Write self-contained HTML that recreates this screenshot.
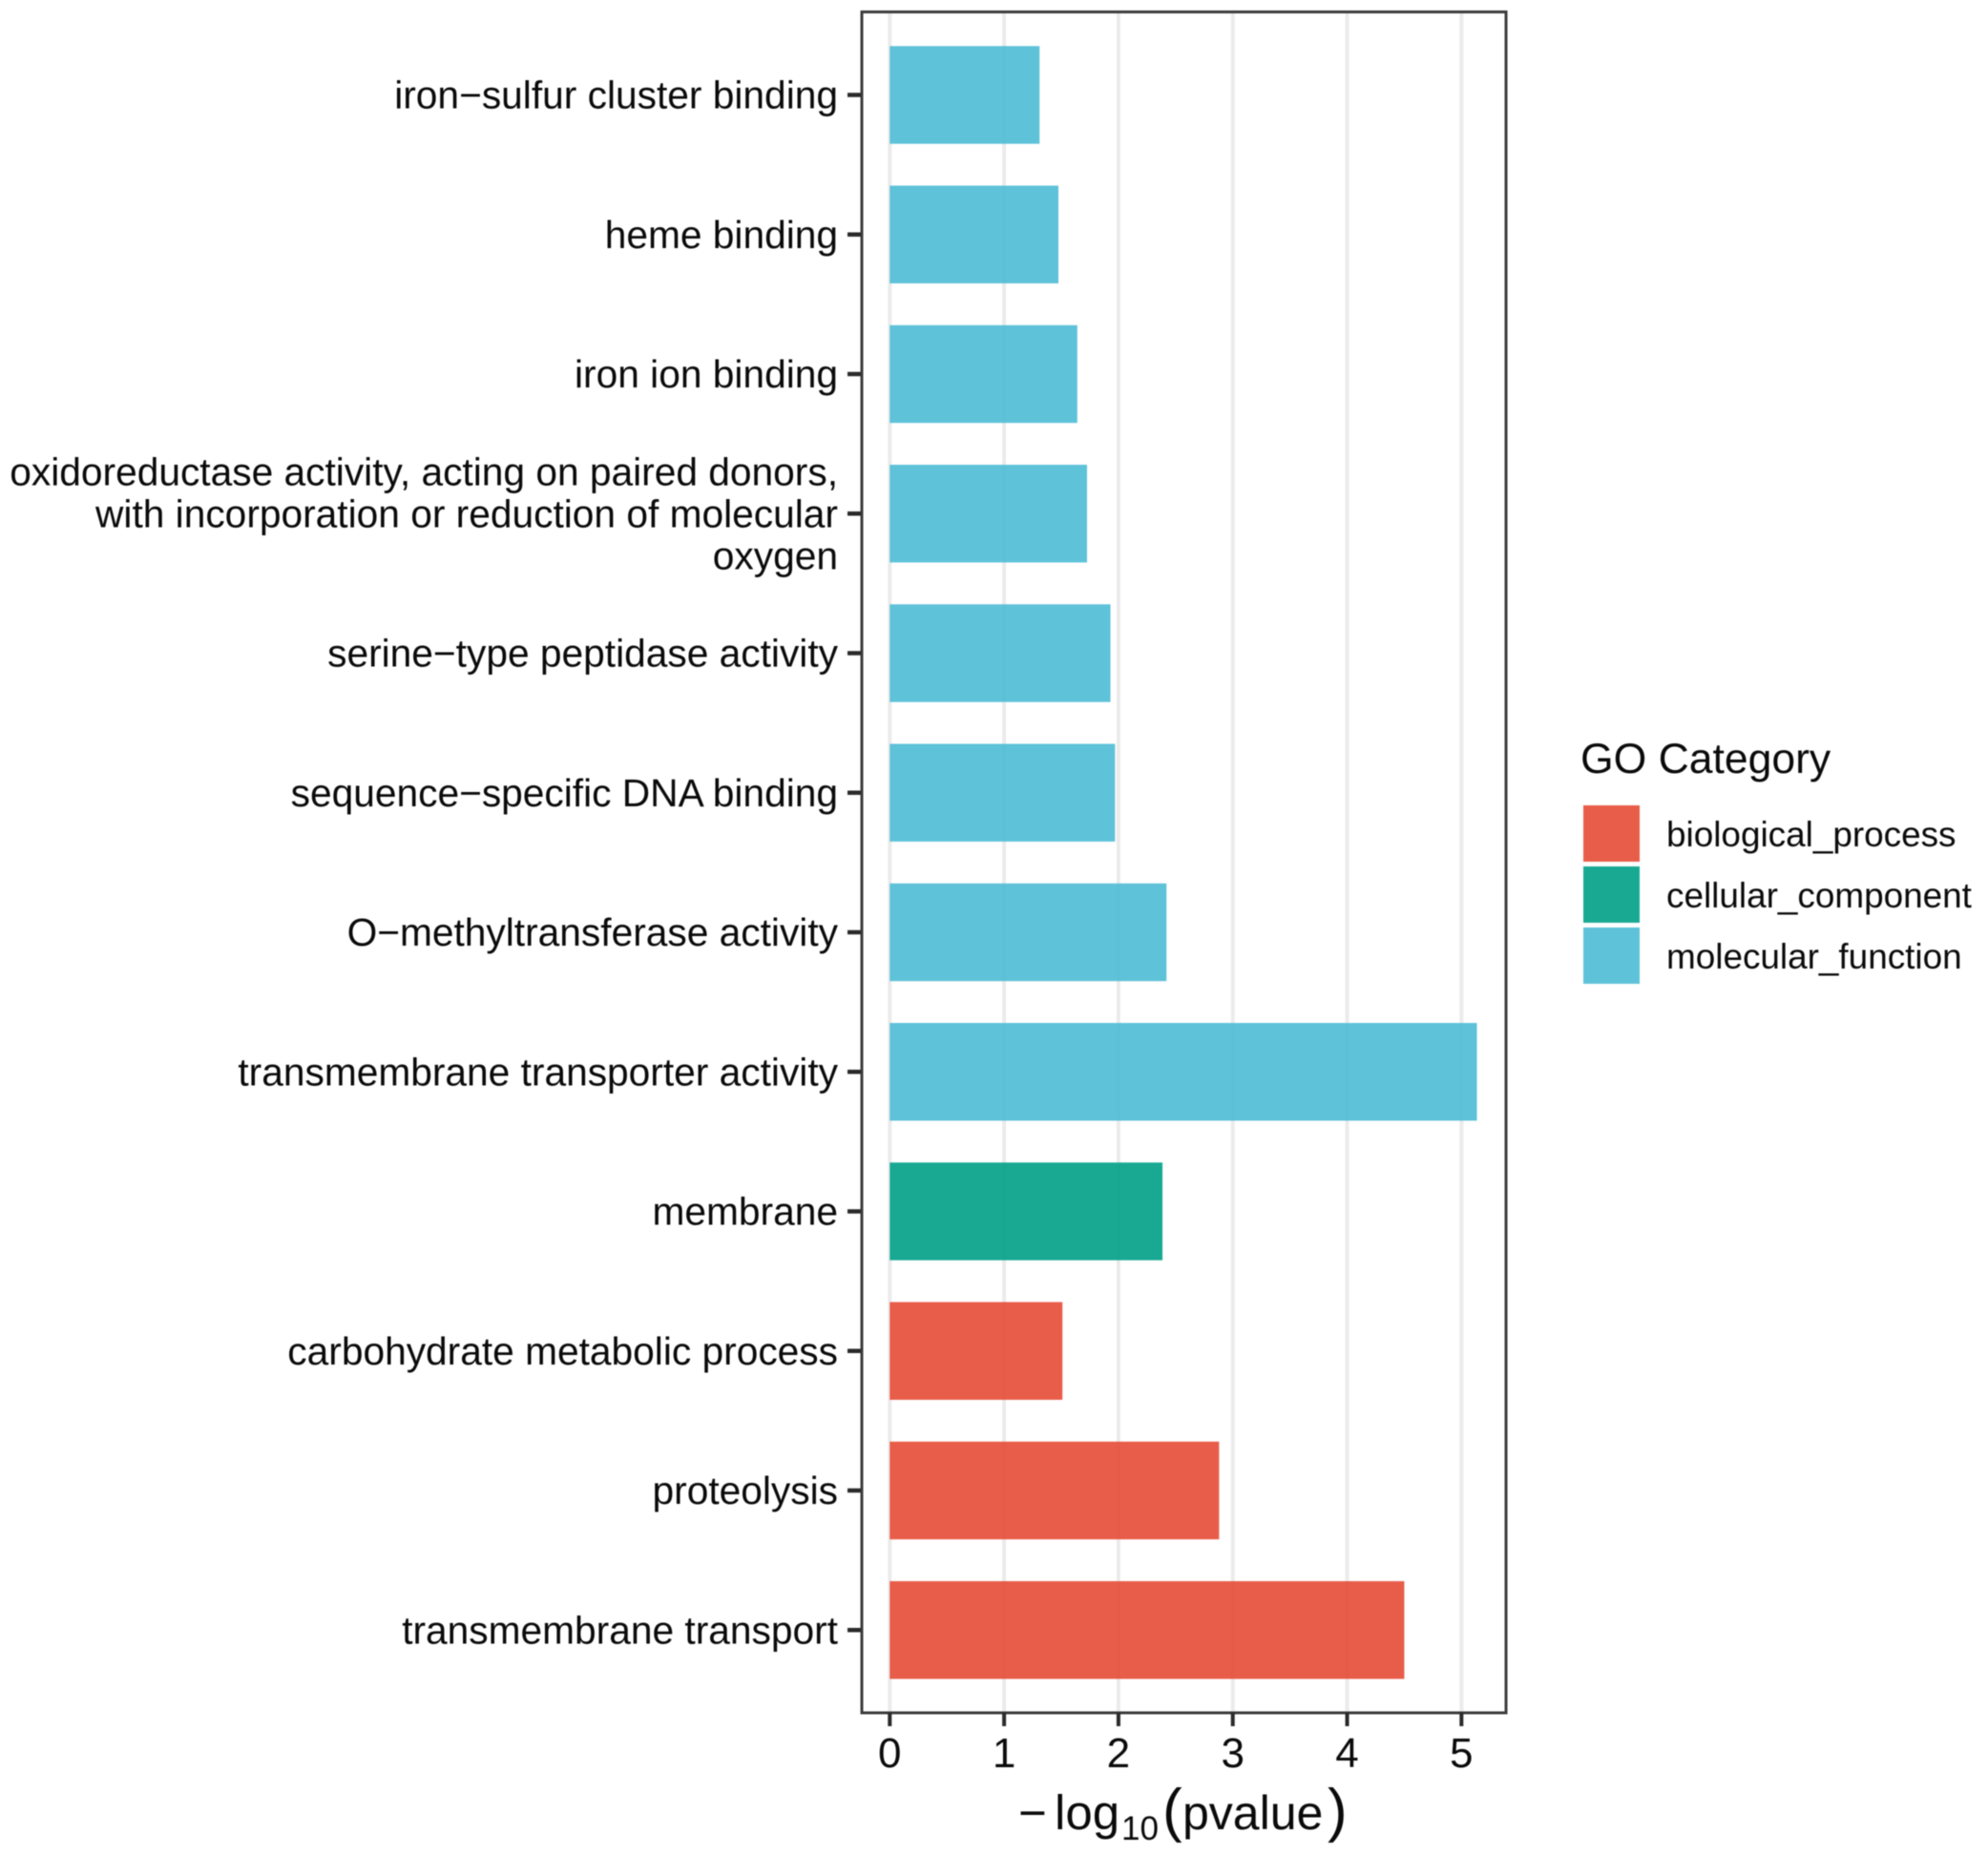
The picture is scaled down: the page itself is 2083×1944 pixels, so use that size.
<!DOCTYPE html>
<html lang="en">
<head>
<meta charset="utf-8">
<title>GO Category enrichment bar chart</title>
<style>
html,body{margin:0;padding:0;background:#fff;}
svg{display:block;filter:blur(0.6px);}
text{font-family:"Liberation Sans",Arial,sans-serif;fill:#0a0a0a;}
</style>
</head>
<body>
<svg id="chart" xmlns="http://www.w3.org/2000/svg" width="2083" height="1944" viewBox="0 0 2083 1944">
<rect x="0" y="0" width="2083" height="1944" fill="#fff"/>
<g id="grid"></g>
<g id="bars"></g>
<rect x="903" y="12.5" width="675" height="1782.5" fill="none" stroke="#3c3c3c" stroke-width="3"/>
<g id="yaxis"></g>
<g id="xaxis"></g>
<g>
<text x="1067" y="1917" font-size="51">−</text>
<text x="1105" y="1917" font-size="51">log</text>
<text x="1175" y="1928" font-size="35">10</text>
<text x="1218" y="1918" font-size="62">(</text>
<text x="1239" y="1917" font-size="50">pvalue</text>
<text x="1391" y="1918" font-size="62">)</text>
</g>
<g>
<text x="1656" y="810" font-size="44.5">GO Category</text>
<g id="legend-entries"></g>
</g>
</svg>
<script>
const categories = [
  ["iron−sulfur cluster binding"],
  ["heme binding"],
  ["iron ion binding"],
  ["oxidoreductase activity, acting on paired donors,", "with incorporation or reduction of molecular", "oxygen"],
  ["serine−type peptidase activity"],
  ["sequence−specific DNA binding"],
  ["O−methyltransferase activity"],
  ["transmembrane transporter activity"],
  ["membrane"],
  ["carbohydrate metabolic process"],
  ["proteolysis"],
  ["transmembrane transport"]
];
const pvalues = [1.31, 1.475, 1.64, 1.725, 1.93, 1.97, 2.42, 5.135, 2.385, 1.51, 2.88, 4.5];
const groups = ["molecular_function","molecular_function","molecular_function","molecular_function","molecular_function","molecular_function","molecular_function","molecular_function","cellular_component","biological_process","biological_process","biological_process"];
const xTicks = [0, 1, 2, 3, 4, 5];
const legendLabels = ["biological_process", "cellular_component", "molecular_function"];

const NS = "http://www.w3.org/2000/svg";
const palette = {biological_process:"#E64B35", cellular_component:"#00A087", molecular_function:"#4DBBD5"};
const X0 = 932.3, XUNIT = 119.8, Y0 = 99.5, YSTEP = 146.25, BAR_H = 102.4;
function xScale(v){ return X0 + v * XUNIT; }
function yScale(i){ return Y0 + i * YSTEP; }
function make(tag, parent, props){
  const el = document.createElementNS(NS, tag);
  for (const k in props) el.setAttribute(k, props[k]);
  parent.appendChild(el);
  return el;
}
const gridG = document.getElementById("grid");
const barsG = document.getElementById("bars");
const yG = document.getElementById("yaxis");
const xG = document.getElementById("xaxis");
const legG = document.getElementById("legend-entries");

xTicks.forEach(function(t){
  const x = xScale(t);
  const line = make("line", gridG, {x1:x, x2:x, y1:14, y2:1794, stroke:"#ebebeb", "stroke-width":4});
  
  
  const tick = make("line", xG, {x1:x, x2:x, y1:1795, y2:1809, stroke:"#2a2a2a", "stroke-width":4});
  
  
  const label = make("text", xG, {x:x, y:1852, "font-size":44, "text-anchor":"middle"});
  
  
  label.textContent = String(t);
});

categories.forEach(function(lines, i){
  const cy = yScale(i);
  const bar = make("rect", barsG, {x:xScale(0), y:cy - BAR_H/2, width:xScale(pvalues[i]) - xScale(0), height:BAR_H, fill:palette[groups[i]], "fill-opacity":0.9});
  
  
  const tick = make("line", yG, {x1:888, x2:902, y1:cy, y2:cy, stroke:"#2a2a2a", "stroke-width":4.5});
  
  
  lines.forEach(function(s, j){
    const base = cy + 14 + (j - (lines.length - 1) / 2) * 44;
    const label = make("text", yG, {x:878, y:base, "font-size":40.7, "text-anchor":"end"});
    
    
    label.textContent = s;
  });
});

legendLabels.forEach(function(name, i){
  const top = 844 + i * 64;
  const swatch = make("rect", legG, {x:1659, y:top, width:59, height:59, fill:palette[name], "fill-opacity":0.9});
  
  
  const label = make("text", legG, {x:1746, y:887 + i * 64, "font-size":36.9});
  
  
  label.textContent = name;
});
</script>
</body>
</html>
